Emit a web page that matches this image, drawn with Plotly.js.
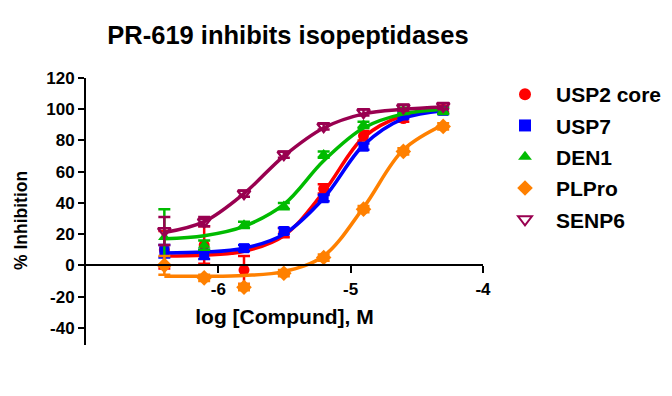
<!DOCTYPE html>
<html>
<head>
<meta charset="utf-8">
<script src="https://cdn.plot.ly/plotly-3.0.1.min.js"></script>
<style>html,body{margin:0;padding:0;background:#fff;}#chart{width:672px;height:396px;}</style>
</head>
<body>
<div id="chart"></div>
<script>
// log10 of compound concentration (M), 2-fold dilutions from 50 uM
const logConc = [-6.408, -6.107, -5.806, -5.505, -5.204, -4.903, -4.602, -4.301];

const seriesNames = ["USP2 core", "USP7", "DEN1", "PLPro", "SENP6"];

const usp2Vals  = [10, 13, -3, 21, 49, 83, 94, 100];
const usp7Vals  = [9, 7, 11, 22, 43, 76, 96, 99];
const den1Vals  = [18, 13, 26, 38, 71, 90, 99, 99];
const plproVals = [0, -8, -14, -5, 5, 36, 73, 89];
const senp6Vals = [22, 28, 46, 71, 89, 98, 101, 102];

// error bar half-lengths
const usp2Err  = [12, 12, 9, 3, 3, 3, 2, 2];
const usp7Err  = [4, 3, 2, 2, 2, 2, 2, 2];
const den1Err  = [18, 3, 2, 2, 2, 2, 2, 2];
const plproErr = [6, 2, 2, 2, 2, 2, 2, 2];
const senp6Err = [9, 3, 2, 2, 2, 2, 2, 2];

// fitted curve heights at each concentration
const usp2Fit  = [6, 6.5, 9, 19, 47, 82, 96, 100];
const usp7Fit  = [8, 8.5, 11, 20, 43, 77, 94, 99];
const den1Fit  = [17, 19, 25, 39, 67, 88, 97, 100];
const plproFit = [-7, -7, -6.5, -4, 6, 37, 74, 90];
const senp6Fit = [21, 28, 46, 70, 88, 97, 100, 101.5];

const yTicks = [-40, -20, 0, 20, 40, 60, 80, 100, 120];
const xTicks = [-6, -5, -4];

const FONT = "Liberation Sans, Arial, Helvetica, sans-serif";
const colors = ["#ff0000", "#0000ff", "#00bb00", "#ff8000", "#990050"];
const symbols = ["circle", "square", "triangle-up", "diamond", "triangle-down-open"];
const sizes = [11, 10, 11, 12, 11];
const vals = [usp2Vals, usp7Vals, den1Vals, plproVals, senp6Vals];
const errs = [usp2Err, usp7Err, den1Err, plproErr, senp6Err];
const fits = [usp2Fit, usp7Fit, den1Fit, plproFit, senp6Fit];

const traces = [];
seriesNames.forEach((name, i) => {
  traces.push({
    x: logConc, y: fits[i], type: "scatter", mode: "lines",
    line: {color: colors[i], width: 3.5, shape: "spline", smoothing: 1},
    showlegend: false, legendgroup: "g" + i, hoverinfo: "skip"
  });
  traces.push({
    x: logConc, y: vals[i], type: "scatter", mode: "markers", name: name,
    legendgroup: "g" + i,
    marker: {color: colors[i], symbol: symbols[i], size: sizes[i],
             line: {color: colors[i], width: i === 4 ? 2.5 : 0}},
    error_y: {type: "data", array: errs[i], visible: true, color: colors[i], thickness: 2.5, width: 6}
  });
});

const layout = {
  width: 672, height: 396,
  margin: {l: 86, r: 189, t: 78, b: 51, pad: 0, autoexpand: false},
  paper_bgcolor: "#fff", plot_bgcolor: "#fff",
  font: {family: FONT, color: "#000"},
  title: {text: "PR-619 inhibits isopeptidases", font: {family: FONT, size: 25.5, weight: "bold", color: "#000"},
          x: 288/672, xanchor: "center", y: 1 - 35/396, yanchor: "middle", xref: "container", yref: "container"},
  xaxis: {
    range: [-7, -4], tickvals: xTicks, ticktext: xTicks.map(String),
    anchor: "free", position: 51/171,
    showline: true, linecolor: "#000", linewidth: 2,
    ticks: "outside", ticklen: 7, tickwidth: 2, tickcolor: "#000",
    ticklabelstandoff: 1,
    showgrid: false, zeroline: false,
    tickfont: {family: FONT, size: 17, weight: "bold", color: "#000"},
    title: {text: "log [Compund], M", font: {family: FONT, size: 21, weight: "bold", color: "#000"}, standoff: 11}
  },
  yaxis: {
    range: [-51, 120], tickvals: yTicks, ticktext: yTicks.map(String),
    showline: true, linecolor: "#000", linewidth: 2,
    ticks: "outside", ticklen: 6, tickwidth: 2, tickcolor: "#000",
    showgrid: false, zeroline: false,
    tickfont: {family: FONT, size: 17, weight: "bold", color: "#000"}
  },
  annotations: [{
    text: "% Inhibition", textangle: -90, showarrow: false,
    xref: "paper", yref: "paper", x: (21 - 86) / 397, y: (345 - 221) / 267,
    xanchor: "center", yanchor: "middle",
    font: {family: FONT, size: 17.5, weight: "bold", color: "#000"}
  }],
  legend: {
    xref: "container", yref: "container",
    x: 494/672, y: 1 - 74/396, xanchor: "left", yanchor: "top",
    font: {family: FONT, size: 21, weight: "bold", color: "#000"},
    tracegroupgap: 1, itemwidth: 52, bgcolor: "rgba(0,0,0,0)", itemsizing: "constant"
  },
  showlegend: true
};

Plotly.newPlot("chart", traces, layout, {displayModeBar: false, staticPlot: true});
</script>
</body>
</html>
